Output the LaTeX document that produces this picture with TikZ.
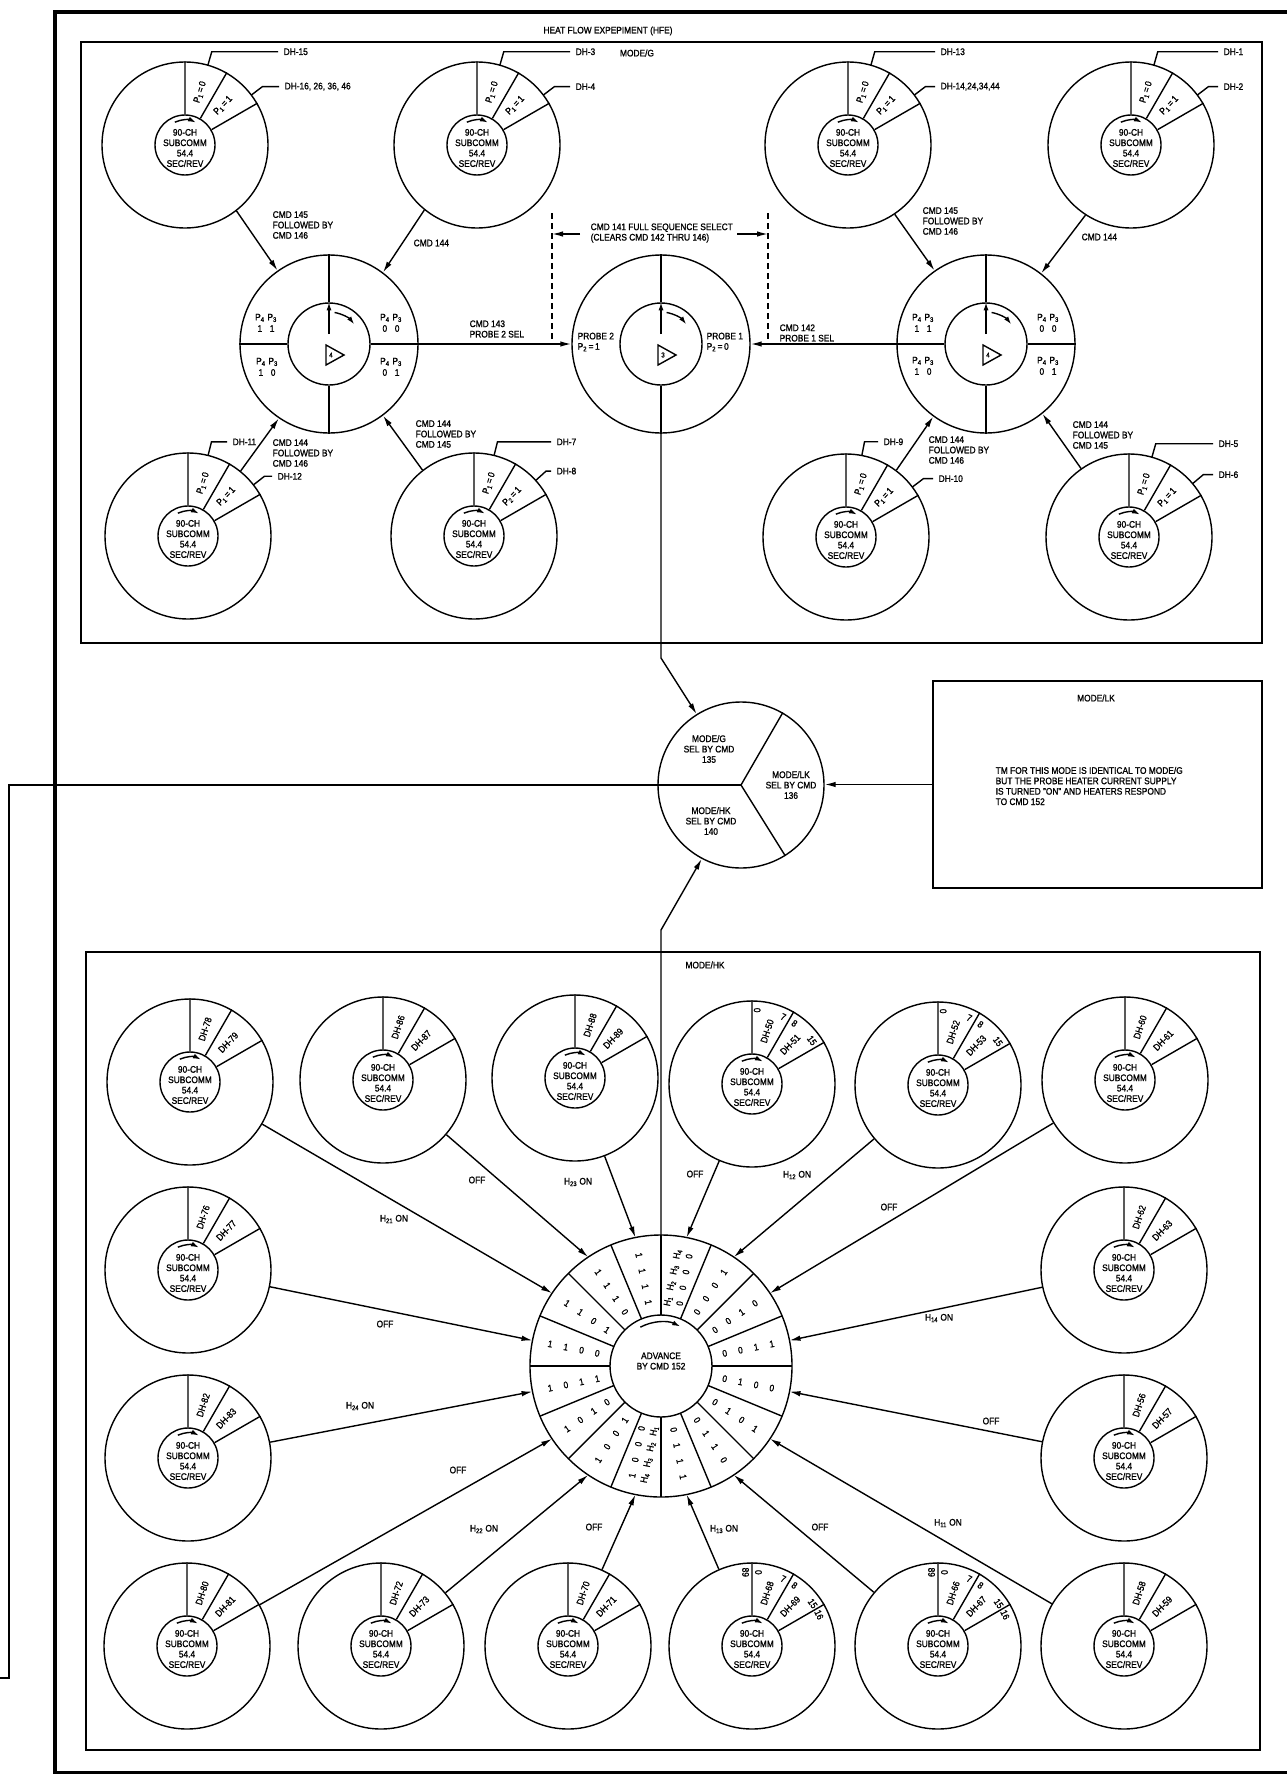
\documentclass[tikz,border=0pt]{standalone}
\usepackage{fontspec}
\setmainfont{Liberation Sans}[FakeStretch=0.88, FakeBold=1.2]
\usetikzlibrary{arrows.meta, calc}

\newcommand{\tagfont}{\fontsize{9.5}{10.4}\selectfont}
\newcommand{\bitcell}[1]{\makebox[16pt]{#1}}
\newcommand{\bitrow}[4]{\bitcell{#1}\bitcell{#2}\bitcell{#3}\bitcell{#4}}
\newcommand{\Hs}[1]{H\textsubscript{#1}}
\newcommand{\Ps}[1]{P\textsubscript{#1}}
\newcommand{\pfour}[2]{\begin{tabular}{@{}c@{\hspace{3pt}}c@{}}\Ps4&\Ps3\\[1pt]#1&#2\end{tabular}}

\tikzset{
  tag/.style={font=\tagfont, inner sep=0pt},
  ring/.style={circle, draw, minimum size=166pt, inner sep=0pt},
  hub/.style={circle, draw, minimum size=60pt, inner sep=0pt},
  bigring/.style={circle, draw, minimum size=178pt, inner sep=0pt},
  bighub/.style={circle, draw, minimum size=82pt, inner sep=0pt},
  arrow/.style={-{Latex[length=11pt, width=5.5pt]}},
  turn/.style={-{Latex[length=8pt, width=5pt]}},
  frame/.style={draw, line width=2.4pt},
  dimline/.style={dash pattern=on 6pt off 4pt}
}

% 90-channel subcommutator: name, centre, first slice, second slice
\newcommand{\subwheel}[4]{%
  \node[ring] (#1) at (#2) {};
  \node[hub] (#1h) at (#2) {};
  \node[tag, align=center] (#1t) at ($(#2)+(0,-3)$) {90-CH\\SUBCOMM\\54.4\\SEC/REV};
  \draw (#1h.90) -- (#1.90) (#1h.60) -- (#1.60) (#1h.30) -- (#1.30);
  \draw[turn] ($(#2)+(114:25)$) arc[start angle=114, end angle=64, radius=25];
  \node[tag, rotate=72] (#1a) at ($(#2)+(74:55)$) {#3};
  \node[tag, rotate=46] (#1b) at ($(#2)+(46:55)$) {#4};
}
% leader to a channel tag: name, centre, angle, label offset, text
\newcommand{\dhlead}[5]{%
  \draw ($(#2)+(#3:83)$) -- ($(#2)+(#3:97)$) -- ($(#2)+({#4-5},{97*sin(#3)})$);
  \node[tag, anchor=west] (#1) at ($(#2)+({#4},{97*sin(#3)})$) {#5};
}
% stepping switch: name, centre, position number
\newcommand{\modewheel}[3]{%
  \node[bigring] (#1) at (#2) {};
  \node[bighub] (#1h) at (#2) {};
  \draw (#1.90) -- (#1h.90) (#1.270) -- (#1h.270);
  \draw[turn] ($(#2)+(0,10)$) -- (#1h.90);
  \draw[turn] ($(#2)+(80:32)$) arc[start angle=80, end angle=38, radius=32];
  \draw ($(#2)+(-3,-1)$) -- ++(18,-10) -- ++(-18,-10) -- cycle;
  \node[tag, font=\fontsize{7}{8}\selectfont] (#1n) at ($(#2)+(2,-11)$) {#3};
}
% word number at the rim: name, centre, angle, rotation, text
\newcommand{\rimmark}[5]{%
  \node[tag, rotate=#4] (#1) at ($(#2)+(#3:74)$) {#5};
}

\begin{document}
\begin{tikzpicture}[x=1pt, y=1pt, line width=1.4pt]
  \useasboundingbox (0,0) rectangle (1286,-1774);

  % frame and title
  \draw[line width=3.8pt] (1290,-12) -- (55,-12) -- (55,-1773) -- (1290,-1773);
  \node[tag] (title) at (608,-31) {HEAT FLOW EXPEPIMENT (HFE)};

  % MODE/G
  \draw[frame] (81,-42) rectangle (1262,-643);
  \node[tag] (modeg) at (637,-53) {MODE/G};

  \subwheel{G1}{185,-145}{\Ps1\,=\,0}{\Ps1\,=\,1}
  \subwheel{G2}{477,-145}{\Ps1\,=\,0}{\Ps1\,=\,1}
  \subwheel{G3}{848,-145}{\Ps1\,=\,0}{\Ps1\,=\,1}
  \subwheel{G4}{1131,-145}{\Ps1\,=\,0}{\Ps1\,=\,1}
  \subwheel{G5}{188,-536}{\Ps1\,=\,0}{\Ps1\,=\,1}
  \subwheel{G6}{474,-536}{\Ps1\,=\,0}{\Ps2\,=\,1}
  \subwheel{G7}{846,-537}{\Ps1\,=\,0}{\Ps1\,=\,1}
  \subwheel{G8}{1129,-537}{\Ps1\,=\,0}{\Ps1\,=\,1}

  \dhlead{G1x}{185,-145}{74}{98}{DH-15}
  \dhlead{G1y}{185,-145}{37}{99}{DH-16, 26, 36, 46}
  \dhlead{G2x}{477,-145}{74}{98}{DH-3}
  \dhlead{G2y}{477,-145}{37}{98}{DH-4}
  \dhlead{G3x}{848,-145}{74}{92}{DH-13}
  \dhlead{G3y}{848,-145}{37}{92}{DH-14,24,34,44}
  \dhlead{G4x}{1131,-145}{74}{92}{DH-1}
  \dhlead{G4y}{1131,-145}{37}{92}{DH-2}
  \dhlead{G5x}{188,-536}{76}{44}{DH-11}
  \dhlead{G5y}{188,-536}{38}{89}{DH-12}
  \dhlead{G6x}{474,-536}{76}{82}{DH-7}
  \dhlead{G6y}{474,-536}{42}{82}{DH-8}
  \dhlead{G7x}{846,-537}{79}{37}{DH-9}
  \dhlead{G7y}{846,-537}{37}{92}{DH-10}
  \dhlead{G8x}{1129,-537}{74}{89}{DH-5}
  \dhlead{G8y}{1129,-537}{40}{89}{DH-6}

  \modewheel{L}{329,-344}{4}
  \modewheel{C}{661,-344}{3}
  \modewheel{R}{986,-344}{4}
  \draw (L.180) -- (Lh.180);
  \draw (R.0) -- (Rh.0);
  \draw[arrow] (Lh.0) -- (C.180);
  \draw[arrow] (Rh.180) -- (C.0);

  \node[tag] (L11) at (266,-324) {\pfour{1}{1}};
  \node[tag] (L00) at (391,-324) {\pfour{0}{0}};
  \node[tag] (L10) at (267,-368) {\pfour{1}{0}};
  \node[tag] (L01) at (391,-368) {\pfour{0}{1}};
  \node[tag] (R11) at (923,-324) {\pfour{1}{1}};
  \node[tag] (R00) at (1048,-324) {\pfour{0}{0}};
  \node[tag] (R10) at (923,-367) {\pfour{1}{0}};
  \node[tag] (R01) at (1048,-367) {\pfour{0}{1}};
  \node[tag, align=left, anchor=west] (probe2) at (577,-342) {PROBE 2\\\Ps2\,=\,1};
  \node[tag, align=left, anchor=west] (probe1) at (706,-342) {PROBE 1\\\Ps2\,=\,0};

  \draw[arrow] (G1.-52) -- (L.125);
  \draw[arrow] (G2.-129) -- (L.53);
  \draw[arrow] (G5.51) -- (L.-124);
  \draw[arrow] (G6.128) -- (L.-53);
  \draw[arrow] (G3.-56) -- (R.125);
  \draw[arrow] (G4.-123) -- (R.52);
  \draw[arrow] (G7.53) -- (R.-126);
  \draw[arrow] (G8.125) -- (R.-51);

  \node[tag, align=left, anchor=west] (cmdA) at (272,-225) {CMD 145\\FOLLOWED BY\\CMD 146};
  \node[tag, anchor=west] (cmdB) at (413,-243) {CMD 144};
  \node[tag, align=left, anchor=west] (cmdC) at (272,-453) {CMD 144\\FOLLOWED BY\\CMD 146};
  \node[tag, align=left, anchor=west] (cmdD) at (415,-434) {CMD 144\\FOLLOWED BY\\CMD 145};
  \node[tag, align=left, anchor=west] (cmdE) at (922,-221) {CMD 145\\FOLLOWED BY\\CMD 146};
  \node[tag, anchor=west] (cmdF) at (1081,-237) {CMD 144};
  \node[tag, align=left, anchor=west] (cmdG) at (928,-450) {CMD 144\\FOLLOWED BY\\CMD 146};
  \node[tag, align=left, anchor=west] (cmdH) at (1072,-435) {CMD 144\\FOLLOWED BY\\CMD 145};
  \node[tag, align=left, anchor=west] (cmd143) at (469,-329) {CMD 143\\PROBE 2 SEL};
  \node[tag, align=left, anchor=west] (cmd142) at (779,-333) {CMD 142\\PROBE 1 SEL};

  % full sequence select span
  \coordinate (dimLt) at (552,-213);
  \coordinate (dimLb) at (552,-344);
  \coordinate (dimRt) at (768,-213);
  \coordinate (dimRb) at (768,-344);
  \draw[dimline] (dimLt) -- (dimLb);
  \draw[dimline] (dimRt) -- (dimRb);
  \node[tag, align=left, anchor=west] (seqsel) at (590,-233) {CMD 141 FULL SEQUENCE SELECT\\(CLEARS CMD 142 THRU 146)};
  \coordinate (dimLa) at (580,-234);
  \coordinate (dimRa) at (737,-234);
  \draw[arrow] (dimLa) -- (dimLt |- dimLa);
  \draw[arrow] (dimRa) -- (dimRt |- dimRa);

  % mode selector
  \node[ring] (S) at (741,-785) {};
  \draw (S.center) -- (S.60) (S.center) -- (S.-58);
  \node[tag, align=center] (selG) at (709,-749) {MODE/G\\SEL BY CMD\\135};
  \node[tag, align=center] (selLK) at (791,-785) {MODE/LK\\SEL BY CMD\\136};
  \node[tag, align=center] (selHK) at (711,-821) {MODE/HK\\SEL BY CMD\\140};
  \coordinate (gbend) at (661,-658);
  \draw[arrow] (Ch.270) -- (gbend) -- (S.122);
  \coordinate (sideTop) at (9,-785);
  \coordinate (sideBot) at (9,-1678);
  \coordinate (sideEnd) at (0,-1678);
  \draw (S.center) -- (sideTop) -- (sideBot) -- (sideEnd);

  % MODE/LK
  \node[draw, line width=2.4pt, minimum width=329pt, minimum height=207pt, inner sep=0pt] (lk) at (1097.5,-784.5) {};
  \node[tag] (lktitle) at (1096,-698) {MODE/LK};
  \node[tag, align=left, anchor=west] (lknote) at (995,-786) {TM FOR THIS MODE IS IDENTICAL TO MODE/G\\BUT THE PROBE HEATER CURRENT SUPPLY\\IS TURNED "ON" AND HEATERS RESPOND\\TO CMD 152};
  \draw[arrow] (lk.west) -- (lk.west -| S.east);

  % MODE/HK
  \draw[frame] (86,-952) rectangle (1260,-1750);
  \node[tag] (modehk) at (705,-965) {MODE/HK};

  \node[circle, draw, minimum size=262pt, inner sep=0pt] (W) at (661,-1366) {};
  \node[circle, draw, minimum size=102pt, inner sep=0pt] (Wh) at (661,-1366) {};
  \foreach \a in {0,22.5,...,337.5}
    \draw ($(W)+(\a:51)$) -- ($(W)+(\a:131)$);
  \node[tag, align=center] (advance) at (661,-1361) {ADVANCE\\BY CMD 152};
  \draw[turn] ($(W)+(118:44)$) arc[start angle=118, end angle=64, radius=44];
  \coordinate (hkbend) at (661,-930);
  \draw[arrow] (Wh.90) -- (hkbend) -- (S.-118);

  \node[tag, rotate=78.75, align=center] (segtop) at ($(W)+(78.75:89)$)
    {\bitcell{\Hs1}\bitcell{\Hs2}\bitcell{\Hs3}\bitcell{\Hs4}\\[2pt]\bitrow0000};
  \node[tag, rotate=78.75, align=center] (segbot) at ($(W)+(-101.25:89)$)
    {\bitrow1000\\[2pt]\bitcell{\Hs4}\bitcell{\Hs3}\bitcell{\Hs2}\bitcell{\Hs1}};
  \foreach \a/\b in {56.25/0001, 33.75/0010, 11.25/0011, -11.25/0100, -33.75/0101, -56.25/0110, -78.75/0111}
    \node[tag, rotate=\a] (seg\b) at ($(W)+(\a:89)$) {\expandafter\bitrow\b};
  \foreach \a/\b in {-123.75/1001, -146.25/1010, -168.75/1011, 168.75/1100, 146.25/1101, 123.75/1110, 101.25/1111}
    \node[tag, rotate=\a+180] (seg\b) at ($(W)+(\a:89)$) {\expandafter\bitrow\b};

  \subwheel{A1}{190,-1082}{DH-78}{DH-79}
  \subwheel{A2}{383,-1080}{DH-86}{DH-87}
  \subwheel{A3}{575,-1078}{DH-88}{DH-89}
  \subwheel{A4}{752,-1084}{DH-50}{DH-51}
  \subwheel{A5}{938,-1085}{DH-52}{DH-53}
  \subwheel{A6}{1125,-1080}{DH-60}{DH-61}
  \subwheel{R2}{1124,-1270}{DH-62}{DH-63}
  \subwheel{R3}{1124,-1458}{DH-56}{DH-57}
  \subwheel{R4}{1124,-1646}{DH-58}{DH-59}
  \subwheel{B6}{938,-1646}{DH-66}{DH-67}
  \subwheel{B5}{752,-1646}{DH-68}{DH-69}
  \subwheel{B4}{568,-1646}{DH-70}{DH-71}
  \subwheel{B3}{381,-1646}{DH-72}{DH-73}
  \subwheel{B2}{187,-1646}{DH-80}{DH-81}
  \subwheel{L3}{188,-1458}{DH-82}{DH-83}
  \subwheel{L2}{188,-1270}{DH-76}{DH-77}

  \rimmark{A4m0}{752,-1084}{86}{-90}{0}
  \rimmark{A4m7}{752,-1084}{65}{-25}{7}
  \rimmark{A4m8}{752,-1084}{55}{-35}{8}
  \rimmark{A4m15}{752,-1084}{36}{-54}{15}
  \rimmark{A5m0}{938,-1085}{86}{-90}{0}
  \rimmark{A5m7}{938,-1085}{65}{-25}{7}
  \rimmark{A5m8}{938,-1085}{55}{-35}{8}
  \rimmark{A5m15}{938,-1085}{36}{-54}{15}
  \rimmark{B5m89}{752,-1646}{95}{-90}{89}
  \rimmark{B5m0}{752,-1646}{85}{-90}{0}
  \rimmark{B5m7}{752,-1646}{65}{-25}{7}
  \rimmark{B5m8}{752,-1646}{55}{-35}{8}
  \rimmark{B5m15}{752,-1646}{35}{-55}{15}
  \rimmark{B5m16}{752,-1646}{25}{-65}{16}
  \rimmark{B6m89}{938,-1646}{95}{-90}{89}
  \rimmark{B6m0}{938,-1646}{85}{-90}{0}
  \rimmark{B6m7}{938,-1646}{65}{-25}{7}
  \rimmark{B6m8}{938,-1646}{55}{-35}{8}
  \rimmark{B6m15}{938,-1646}{35}{-55}{15}
  \rimmark{B6m16}{938,-1646}{25}{-65}{16}

  \foreach \n/\a in {A1/146.25, A2/123.75, A3/101.25, A4/78.75, A5/56.25, A6/33.75,
                     R2/11.25, R3/-11.25, R4/-33.75, B6/-56.25, B5/-78.75, B4/-101.25,
                     B3/-123.75, B2/-146.25, L3/-168.75, L2/168.75}
    \draw[arrow] (\n) -- ($(W)+(\a:131)$);

  \node[tag] (hkA1) at (394,-1219) {\Hs{21} ON};
  \node[tag] (hkA2) at (477,-1180) {OFF};
  \node[tag] (hkA3) at (578,-1182) {\Hs{23} ON};
  \node[tag] (hkA4) at (695,-1174) {OFF};
  \node[tag] (hkA5) at (797,-1175) {\Hs{12} ON};
  \node[tag] (hkA6) at (889,-1207) {OFF};
  \node[tag] (hkR2) at (939,-1318) {\Hs{14} ON};
  \node[tag] (hkR3) at (991,-1421) {OFF};
  \node[tag] (hkR4) at (948,-1523) {\Hs{11} ON};
  \node[tag] (hkB6) at (820,-1527) {OFF};
  \node[tag] (hkB5) at (724,-1529) {\Hs{13} ON};
  \node[tag] (hkB4) at (594,-1527) {OFF};
  \node[tag] (hkB3) at (484,-1529) {\Hs{22} ON};
  \node[tag] (hkB2) at (458,-1470) {OFF};
  \node[tag] (hkL3) at (360,-1406) {\Hs{24} ON};
  \node[tag] (hkL2) at (385,-1324) {OFF};
\end{tikzpicture}
\end{document}
